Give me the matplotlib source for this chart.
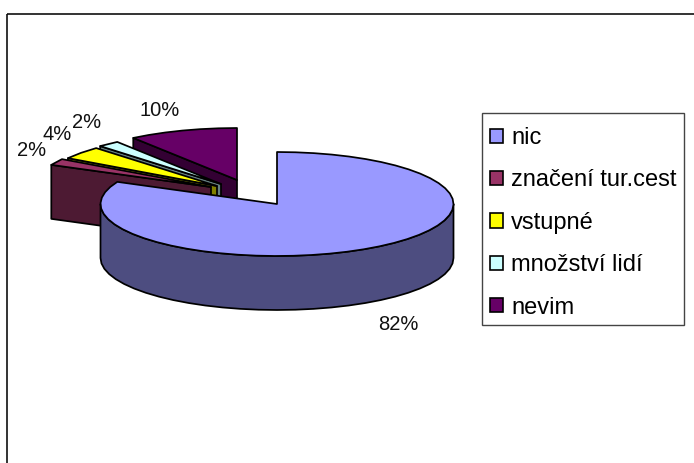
import numpy as np
import matplotlib
matplotlib.use("Agg")
import matplotlib.pyplot as plt
from matplotlib.patches import Patch, Polygon, Rectangle

plt.rcParams['font.family'] = ['Liberation Sans', 'DejaVu Sans']

categories = ["nic", "značení tur.cest", "vstupné", "množství lidí", "nevim"]
values = [82, 2, 4, 2, 10]
top_colors = ["#9999FF", "#993366", "#FFFF00", "#CCFFFF", "#660066"]
wall_colors = ["#4D4D80", "#4D1A33", "#808000", "#668080", "#330033"]

# Pie projection, in pixels
center_x, center_y = 277, 204
radius_x, radius_y = 176.5, 52
depth = 54
explode_x = [0, -66, -60, -56, -40]
explode_y = [0, -17, -18, -20, -24]
label_xy = [(398, 324), (32, 151), (57, 135), (87, 123), (160, 111)]
STEP = 6.0

fig = plt.figure(figsize=(6.94, 4.63), dpi=100)
ax = fig.add_axes([0, 0, 1, 1])
ax.set_xlim(0, 694)
ax.set_ylim(463, 0)
ax.axis("off")

edge = dict(edgecolor="black", linewidth=1.25, joinstyle="round")


def rim(start, stop, cx, cy):
    """Points on the projected rim, angles clockwise from twelve o'clock."""
    n = max(2, int(abs(stop - start) / STEP) + 1)
    t = np.radians(np.linspace(start, stop, n))
    return np.column_stack([cx + radius_x * np.sin(t), cy - radius_y * np.cos(t)])


# The frame runs off the right and bottom of the canvas
ax.add_patch(Rectangle((7, 14), 800, 600, fill=False, edgecolor="#111111", linewidth=1.2))

stops = np.cumsum(values) * 3.6
starts = stops - np.array(values) * 3.6

# Detached slices go back to front, the big slice last
for i in [4, 3, 2, 1]:
    cx, cy = center_x + explode_x[i], center_y + explode_y[i]
    arc = rim(starts[i], stops[i], cx, cy)
    apex = np.array([cx, cy])
    wall = np.array([apex, arc[0], arc[0] + [0, depth], apex + [0, depth]])
    ax.add_patch(Polygon(wall, closed=True, facecolor=wall_colors[i], **edge))
    ax.add_patch(Polygon(np.vstack([apex, arc]), closed=True, facecolor=top_colors[i], **edge))

front = rim(90, 270, center_x, center_y)
side = np.vstack([front, (front + [0, depth])[::-1]])
ax.add_patch(Polygon(side, closed=True, facecolor=wall_colors[0], **edge))
top = np.vstack([[center_x, center_y], rim(starts[0], stops[0], center_x, center_y)])
ax.add_patch(Polygon(top, closed=True, facecolor=top_colors[0], **edge))

for v, (x, y) in zip(values, label_xy):
    ax.text(x, y, f"{v}%", fontsize=14.5, ha="center", va="center", color="#111111")

# Legend box drawn separately so the entries can sit freely inside it
ax.add_patch(Rectangle((482, 113), 202, 212, facecolor="white", edgecolor="#444444", linewidth=1.0))
handles = [Patch(facecolor=c, edgecolor="black", linewidth=1.2) for c in top_colors]
leg = ax.legend(
    handles, categories,
    loc="upper left",
    bbox_to_anchor=(490 / 694, 1 - 127 / 463),
    fontsize=17,
    frameon=False,
    borderaxespad=0,
    borderpad=0,
    labelspacing=0.865,
    handlelength=0.55,
    handleheight=0.55,
    handletextpad=0.34,
)

fig.savefig("out.png", dpi=100)
